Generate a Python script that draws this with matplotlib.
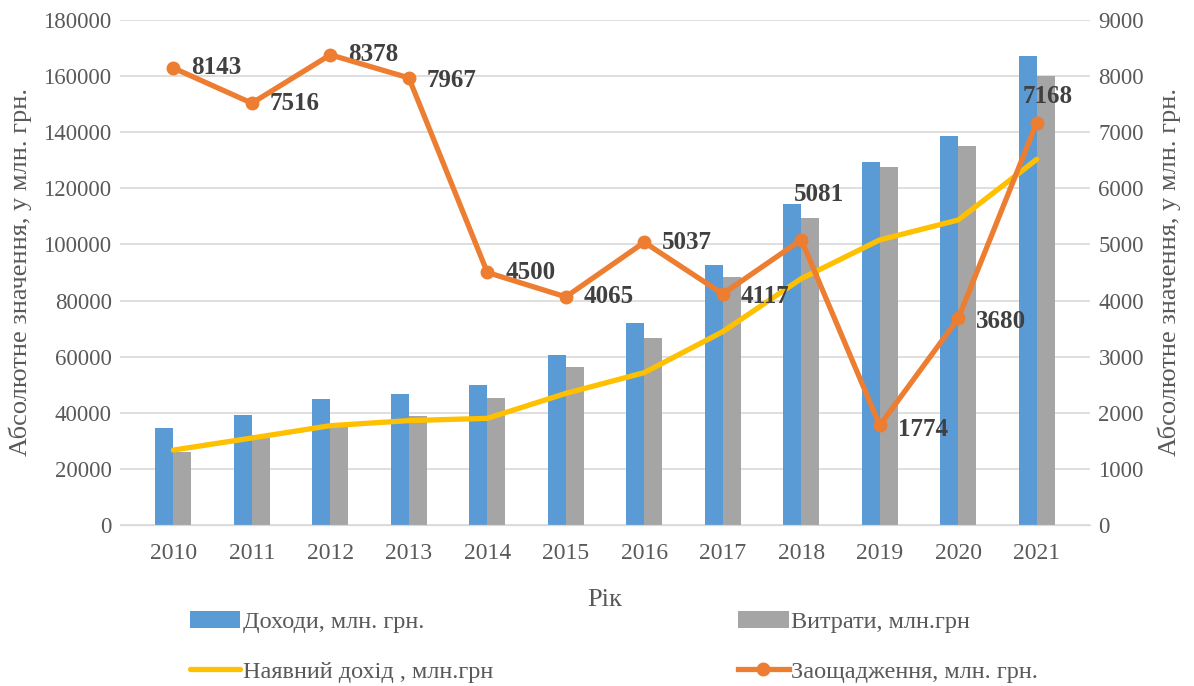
import numpy as np
import matplotlib.pyplot as plt

plt.rcParams['font.family'] = ['Liberation Serif', 'DejaVu Serif']

years = ['2010', '2011', '2012', '2013', '2014', '2015', '2016', '2017', '2018', '2019', '2020', '2021']
income = [34600, 39200, 44800, 46800, 49800, 60600, 71900, 92700, 114400, 129500, 138700, 167200]
expenses = [26100, 32000, 35500, 39000, 45400, 56400, 66800, 88400, 109400, 127700, 135100, 160000]
disposable = [26700, 31000, 35400, 37200, 38000, 46900, 54300, 68900, 87800, 101600, 108700, 130300]
savings = [8143, 7516, 8378, 7967, 4500, 4065, 5037, 4117, 5081, 1774, 3680, 7168]

c_blue = '#5B9BD5'
c_grey = '#A5A5A5'
c_yellow = '#FFC000'
c_orange = '#ED7D31'
c_text = '#595959'

x = np.arange(len(years))
w = 0.23

fig = plt.figure(figsize=(11.94, 6.86), dpi=100)
ax = fig.add_axes([0.1005, 0.2347, 0.8125, 0.7363])
ax2 = ax.twinx()

b1 = ax.bar(x - w / 2, income, w, color=c_blue, label='Доходи, млн. грн.', zorder=2)
b2 = ax.bar(x + w / 2, expenses, w, color=c_grey, label='Витрати, млн.грн', zorder=2)
l1, = ax.plot(x, disposable, color=c_yellow, lw=3.8, solid_capstyle='round',
              label='Наявний дохід , млн.грн', zorder=3)
l2, = ax2.plot(x, savings, color=c_orange, lw=3.8, marker='o', ms=9,
               label='Заощадження, млн. грн.', zorder=4)

ax.set_ylim(0, 180000)
ax.set_yticks(np.arange(0, 180001, 20000))
ax2.set_ylim(0, 9000)
ax2.set_yticks(np.arange(0, 9001, 1000))
ax.set_xlim(-0.68, 11.68)
ax.set_xticks(x)
ax.set_xticklabels(years)

ax.grid(axis='y', color='#D9D9D9', lw=1.2, zorder=0)
ax.set_axisbelow(True)
for a in (ax, ax2):
    for s in ('top', 'left', 'right'):
        a.spines[s].set_visible(False)
    a.spines['bottom'].set_color('#D9D9D9')
    a.tick_params(length=0, labelsize=16.5, colors=c_text, pad=6)
ax.tick_params(axis='x', labelsize=17, pad=13)

ax.set_ylabel('Абсолютне значення, у млн. грн.', fontsize=19, color=c_text, labelpad=8)
ax2.set_ylabel('Абсолютне значення, у млн. грн.', fontsize=19, color=c_text, labelpad=10)
ax.set_xlabel('Рік', fontsize=19, color=c_text, labelpad=18)

# data labels for savings
offsets = [(13, 0), (13, 0), (13, 0), (13, -2), (13, 0), (13, 0), (13, 0), (13, -2),
           (-5, 33), (13, -3), (13, -2), (-10, 19)]
for xi, v, off in zip(x, savings, offsets):
    ax2.annotate(str(v), (xi, v), xytext=off, textcoords='offset points',
                 ha='left', va='center', fontsize=18, fontweight='bold', color='#404040')

handles = [b1, l1, b2, l2]
fig.legend(handles, [h.get_label() for h in handles], loc='lower left',
           bbox_to_anchor=(0.141, -0.027), ncol=2, frameon=False, fontsize=17.5,
           handlelength=2.06, handletextpad=0.1, columnspacing=10.1,
           labelspacing=1.15, labelcolor=c_text)

plt.savefig('out.png', dpi=100)
